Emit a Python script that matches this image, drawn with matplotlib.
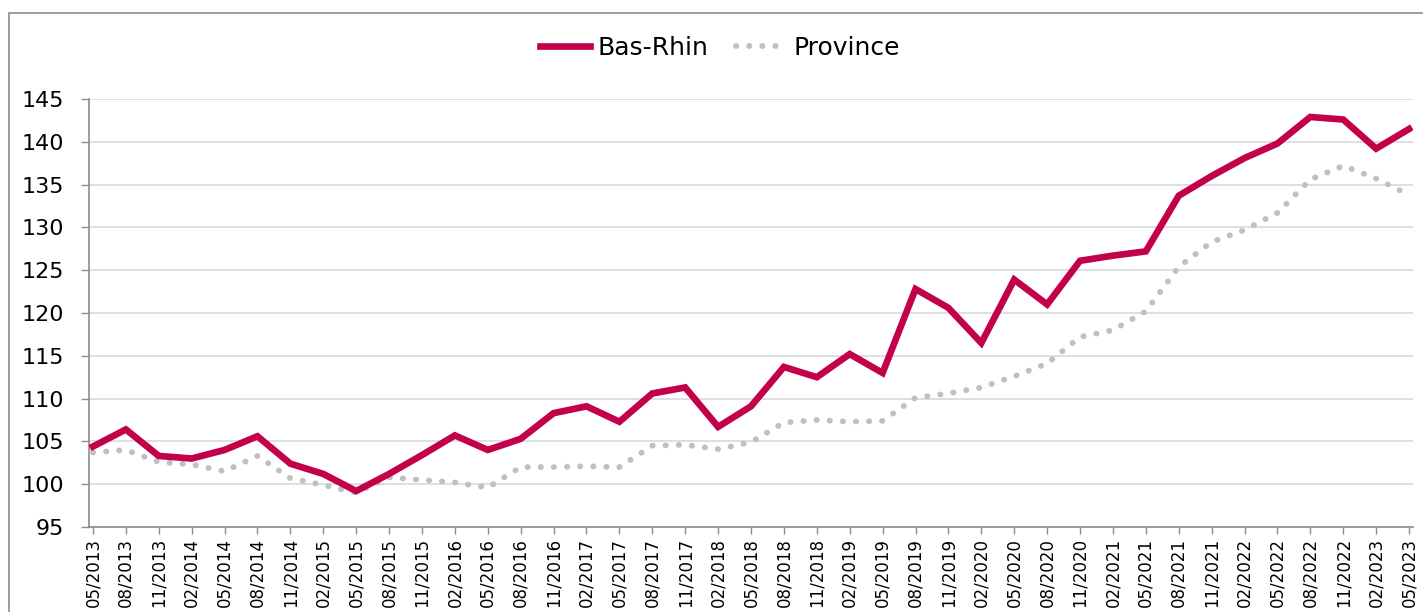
import matplotlib.pyplot as plt
from matplotlib.patches import Rectangle

dates = [
    "05/2013", "08/2013", "11/2013", "02/2014", "05/2014", "08/2014", "11/2014",
    "02/2015", "05/2015", "08/2015", "11/2015", "02/2016", "05/2016", "08/2016",
    "11/2016", "02/2017", "05/2017", "08/2017", "11/2017", "02/2018", "05/2018",
    "08/2018", "11/2018", "02/2019", "05/2019", "08/2019", "11/2019", "02/2020",
    "05/2020", "08/2020", "11/2020", "02/2021", "05/2021", "08/2021", "11/2021",
    "02/2022", "05/2022", "08/2022", "11/2022", "02/2023", "05/2023",
]

bas_rhin = [
    104.4, 106.4, 103.3, 103.0, 104.0, 105.6, 102.4, 101.2, 99.2, 101.2,
    103.4, 105.7, 104.0, 105.3, 108.3, 109.1, 107.3, 110.6, 111.3, 106.7,
    109.1, 113.7, 112.5, 115.2, 113.0, 122.8, 120.6, 116.5, 123.9, 121.0,
    126.1, 126.7, 127.2, 133.7, 136.0, 138.1, 139.8, 142.9, 142.6, 139.2,
    141.5,
]

province = [
    103.7, 104.0, 102.6, 102.3, 101.5, 103.3, 100.7, 99.9, 99.0, 100.8,
    100.5, 100.2, 99.6, 102.0, 102.0, 102.1, 102.0, 104.5, 104.6, 104.1,
    104.9, 107.2, 107.5, 107.3, 107.4, 110.1, 110.6, 111.3, 112.6, 114.1,
    117.2, 118.0, 120.2, 125.4, 128.3, 129.7, 131.7, 135.6, 137.2, 135.7,
    133.8,
]

yticks = [95, 100, 105, 110, 115, 120, 125, 130, 135, 140, 145]

fig = plt.figure(figsize=(14.23, 6.12), dpi=100)
ax = fig.add_axes([89 / 1423, 1 - 527 / 612, 1324 / 1423, 428 / 612])

# outer chart frame
fig.patches.append(Rectangle((9 / 1423, -0.1), 1.2, 1.1 - 13 / 612,
                             transform=fig.transFigure, fill=False,
                             edgecolor='#8c8c8c', linewidth=1.2))

x = list(range(len(dates)))
ax.plot(x, bas_rhin, color='#c3004a', linewidth=4.8, label='Bas-Rhin',
        solid_joinstyle='miter', zorder=3)
ax.plot(x, province, color='#c0c0c0', linewidth=4.2, label='Province',
        linestyle=(0, (0.05, 2.2)), dash_capstyle='round', zorder=2)

ax.set_xlim(-0.12, len(dates) - 1 + 0.12)
ax.set_ylim(95, 145)
ax.set_yticks(yticks)
ax.set_xticks(x)
ax.set_xticklabels(dates, rotation=90, fontsize=12)
ax.tick_params(axis='y', labelsize=16, length=6, width=1, color='#8c8c8c', pad=12)
ax.tick_params(axis='x', length=5, width=1, color='#8c8c8c', pad=3)

ax.grid(axis='y', color='#d9d9d9', linewidth=1.2)
ax.set_axisbelow(True)
for side in ['top', 'right']:
    ax.spines[side].set_visible(False)
for side in ['left', 'bottom']:
    ax.spines[side].set_color('#8c8c8c')
    ax.spines[side].set_linewidth(1.2)

fig.legend(loc='center', bbox_to_anchor=(0.506, 1 - 48 / 612), ncol=2,
           frameon=False, fontsize=18, handlelength=2.0, handletextpad=0.3,
           columnspacing=1.1)

fig.savefig('out.png', dpi=100)
